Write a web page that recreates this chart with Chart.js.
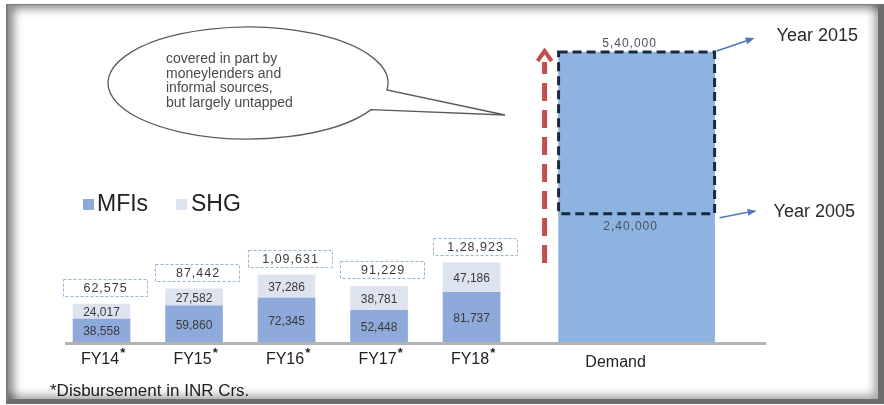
<!DOCTYPE html>
<html>
<head>
<meta charset="utf-8">
<script src="https://cdn.jsdelivr.net/npm/chart.js@4.4.1/dist/chart.umd.min.js"></script>
<style>
  html, body { margin: 0; padding: 0; background: #fff; }
  #wrap { position: relative; width: 884px; height: 405px; overflow: hidden; }
  #c { position: absolute; left: 0; top: 0; }
  #frame {
    position: absolute; left: 6px; top: 4px; width: 878px; height: 400px;
    box-sizing: border-box; pointer-events: none;
    border-top: 1px solid #7a7a7a; border-left: 2px solid #7a7a7a;
    border-right: 6px solid #6e6e6e; border-bottom: 5px solid #6e6e6e;
    box-shadow: inset 9px 7px 9px -3px rgba(0,0,0,0.45), inset -6px -6px 8px -2px rgba(0,0,0,0.35);
  }
</style>
</head>
<body>
<div id="wrap">
  <canvas id="c" width="884" height="405"></canvas>
  <div id="frame"></div>
</div>
<script>
// ---- data ----
const categories = ['FY14', 'FY15', 'FY16', 'FY17', 'FY18'];
const mfiValues = [38558, 59860, 72345, 52448, 81737];
const shgValues = [24017, 27582, 37286, 38781, 47186];
const demandLabel = 'Demand';
const demandYears = ['Year 2005', 'Year 2015'];
const demandValues = [240000, 540000];
const seriesNames = ['MFIs', 'SHG'];
const calloutLines = ['covered in part by', 'moneylenders and', 'informal sources,', 'but largely untapped'];
const footnote = '*Disbursement in INR Crs.';

// ---- layout ----
const DEMAND_SLOT = 5.784;          // where the demand bar sits on the index axis
const FONT = '"Liberation Sans", Arial, Helvetica, sans-serif';
const COLORS = {
  mfi: '#8eaadb', shg: '#dde3ef', demand: '#8db4e0',
  text: '#3a3a3a', totalBox: '#97b3d8', demandBox: '#1b2940',
  arrowRed: '#c0504d', arrowBlue: '#5078b8', base: '#b3b3b3'
};

// Indian digit grouping: 1,09,631 / 5,40,000
function fmtIN(n) {
  const s = String(Math.round(n));
  if (s.length <= 3) return s;
  const last3 = s.slice(-3);
  let rest = s.slice(0, -3);
  const parts = [];
  while (rest.length > 2) { parts.unshift(rest.slice(-2)); rest = rest.slice(0, -2); }
  if (rest) parts.unshift(rest);
  return parts.join(',') + ',' + last3;
}

function arrowLine(ctx, x1, y1, x2, y2, color) {
  const ang = Math.atan2(y2 - y1, x2 - x1);
  const hl = 9, hw = 3.5;
  ctx.save();
  ctx.strokeStyle = color; ctx.fillStyle = color; ctx.lineWidth = 1.5;
  ctx.beginPath();
  ctx.moveTo(x1, y1);
  ctx.lineTo(x2 - hl * Math.cos(ang), y2 - hl * Math.sin(ang));
  ctx.stroke();
  ctx.beginPath();
  ctx.moveTo(x2, y2);
  ctx.lineTo(x2 - hl * Math.cos(ang) + hw * Math.sin(ang), y2 - hl * Math.sin(ang) - hw * Math.cos(ang));
  ctx.lineTo(x2 - hl * Math.cos(ang) - hw * Math.sin(ang), y2 - hl * Math.sin(ang) + hw * Math.cos(ang));
  ctx.closePath();
  ctx.fill();
  ctx.restore();
}

const decorations = {
  id: 'decorations',
  afterDatasetsDraw(chart) {
    const ctx = chart.ctx;
    const area = chart.chartArea;
    const xs = chart.scales.x, ys = chart.scales.y, y2s = chart.scales.y2;
    const mfiMeta = chart.getDatasetMeta(0);
    const shgMeta = chart.getDatasetMeta(1);
    const dLow = chart.getDatasetMeta(2).data[0];
    const dTop = chart.getDatasetMeta(3).data[0];

    ctx.save();
    // baseline
    ctx.strokeStyle = COLORS.base; ctx.lineWidth = 3;
    ctx.beginPath(); ctx.moveTo(area.left, area.bottom + 0.5); ctx.lineTo(area.right, area.bottom + 0.5); ctx.stroke();

    // segment values
    ctx.textAlign = 'center'; ctx.textBaseline = 'middle';
    ctx.font = '12px ' + FONT; ctx.fillStyle = COLORS.text;
    [mfiMeta, shgMeta].forEach((meta, k) => {
      const vals = k === 0 ? mfiValues : shgValues;
      meta.data.forEach((el, i) => {
        ctx.fillText(fmtIN(vals[i]), el.x, (el.y + el.base) / 2 + 1);
      });
    });

    // totals in dashed boxes
    ctx.letterSpacing = '1px';
    ctx.font = '12.5px ' + FONT;
    shgMeta.data.forEach((el, i) => {
      const total = mfiValues[i] + shgValues[i];
      const cx = el.x + 3, w = 84, h = 17, bottom = el.y - 8;
      ctx.save();
      ctx.setLineDash([3, 2]); ctx.strokeStyle = COLORS.totalBox; ctx.lineWidth = 1;
      ctx.strokeRect(Math.round(cx - w / 2) + 0.5, Math.round(bottom - h) + 0.5, w, h);
      ctx.restore();
      ctx.fillStyle = COLORS.text;
      ctx.fillText(fmtIN(total), cx + 1, bottom - h / 2 + 1);
    });

    // demand dashed outline on the growth segment
    ctx.save();
    ctx.setLineDash([9, 5]); ctx.strokeStyle = COLORS.demandBox; ctx.lineWidth = 3;
    ctx.strokeRect(dTop.x - dTop.width / 2, dTop.y, dTop.width, dTop.base - dTop.y);
    ctx.restore();

    // demand values
    ctx.font = '12px ' + FONT; ctx.fillStyle = '#4a5060';
    ctx.fillText(fmtIN(demandValues[1]), dTop.x - 7, dTop.y - 8);
    ctx.fillText(fmtIN(demandValues[0]), dTop.x - 6, dTop.base + 13);
    ctx.letterSpacing = '0px';

    // red dashed growth arrow
    const ax = dTop.x - dTop.width / 2 - 14;
    const aTop = y2s.getPixelForValue(demandValues[1]) - 4;
    const aBottom = ys.getPixelForValue(mfiValues[4] + shgValues[4]);
    ctx.save();
    ctx.strokeStyle = COLORS.arrowRed; ctx.lineWidth = 5;
    ctx.setLineDash([18, 9]); ctx.lineDashOffset = 0;
    ctx.beginPath(); ctx.moveTo(ax, aBottom); ctx.lineTo(ax, aTop + 14); ctx.stroke();
    ctx.setLineDash([]); ctx.lineWidth = 4; ctx.lineJoin = 'miter';
    ctx.beginPath(); ctx.moveTo(ax - 7, aTop + 13); ctx.lineTo(ax, aTop + 3); ctx.lineTo(ax + 7, aTop + 13); ctx.stroke();
    ctx.restore();

    // year pointers
    const rx = dTop.x + dTop.width / 2;
    arrowLine(ctx, rx + 2, dTop.y - 1, rx + 40, dTop.y - 14, COLORS.arrowBlue);
    arrowLine(ctx, rx + 5, dTop.base + 4, rx + 42, dTop.base - 3, COLORS.arrowBlue);
    ctx.font = '18px ' + FONT; ctx.fillStyle = '#2a2a2a'; ctx.textAlign = 'left';
    ctx.fillText(demandYears[1], rx + 62, dTop.y - 16);
    ctx.fillText(demandYears[0], rx + 59, dTop.base - 2);

    // category labels
    ctx.fillStyle = '#222'; ctx.textBaseline = 'alphabetic';
    categories.forEach((c, i) => {
      const cx = xs.getPixelForValue(i);
      ctx.font = '16px ' + FONT;
      const w = ctx.measureText(c).width;
      ctx.font = '13px ' + FONT;
      const sw = ctx.measureText('*').width;
      const x0 = cx - (w + sw) / 2 + 1;
      ctx.font = '16px ' + FONT; ctx.textAlign = 'left';
      ctx.fillText(c, x0, area.bottom + 21);
      ctx.font = 'bold 13px ' + FONT;
      ctx.fillText('*', x0 + w + 1, area.bottom + 14);
    });
    ctx.font = '16px ' + FONT; ctx.textAlign = 'center';
    ctx.fillText(demandLabel, dLow.x - 21, area.bottom + 24);

    // legend
    const legend = [[COLORS.mfi, 83, 97], [COLORS.shg, 176, 191]];
    legend.forEach(([col, sx, tx], k) => {
      ctx.fillStyle = col; ctx.fillRect(sx, 199, 11, 11);
      ctx.fillStyle = '#222'; ctx.font = '23px ' + FONT; ctx.textAlign = 'left';
      ctx.fillText(seriesNames[k], tx, 211);
    });

    // callout bubble
    const ecx = 248, ecy = 83, erx = 140, ery = 56;
    const a0 = Math.atan2((90 - ecy) / ery, (387 - ecx) / erx);
    const a1 = Math.atan2((110 - ecy) / ery, (373 - ecx) / erx);
    ctx.beginPath();
    ctx.ellipse(ecx, ecy, erx, ery, 0, a1, a0 + Math.PI * 2, false);
    ctx.lineTo(505, 115);
    ctx.closePath();
    ctx.fillStyle = '#fff'; ctx.fill();
    ctx.strokeStyle = '#5a5a5a'; ctx.lineWidth = 1.3; ctx.stroke();
    ctx.fillStyle = '#4a4a4a'; ctx.font = '14px ' + FONT; ctx.textAlign = 'left';
    calloutLines.forEach((line, i) => ctx.fillText(line, 166, 63 + i * 14.7));

    // footnote
    ctx.fillStyle = '#222'; ctx.font = '17px ' + FONT;
    ctx.fillText(footnote, 50, 396);
    ctx.restore();
  }
};

const fyPoints = vals => vals.map((v, i) => ({ x: i, y: v }));

new Chart(document.getElementById('c'), {
  type: 'bar',
  data: {
    datasets: [
      { label: seriesNames[0], data: fyPoints(mfiValues), backgroundColor: COLORS.mfi,
        barThickness: 57, grouped: false, yAxisID: 'y', stack: 'fy' },
      { label: seriesNames[1], data: fyPoints(shgValues), backgroundColor: COLORS.shg,
        barThickness: 57, grouped: false, yAxisID: 'y', stack: 'fy' },
      { label: demandYears[0], data: [{ x: DEMAND_SLOT, y: demandValues[0] }], backgroundColor: COLORS.demand,
        barThickness: 156, grouped: false, yAxisID: 'y2', stack: 'demand' },
      { label: demandYears[1], data: [{ x: DEMAND_SLOT, y: demandValues[1] - demandValues[0] }], backgroundColor: COLORS.demand,
        barThickness: 156, grouped: false, yAxisID: 'y2', stack: 'demand' }
    ]
  },
  options: {
    responsive: false,
    animation: false,
    layout: { padding: { left: 65, right: 118, top: 40, bottom: 62 } },
    plugins: { legend: { display: false }, tooltip: { enabled: false } },
    scales: {
      x: { type: 'linear', min: -0.395, max: 7.183, offset: false, stacked: true, display: false },
      y: { stacked: true, min: 0, max: 488000, display: false },
      y2: { stacked: true, min: 0, max: 562300, display: false, position: 'right' }
    }
  },
  plugins: [decorations]
});
</script>
</body>
</html>
